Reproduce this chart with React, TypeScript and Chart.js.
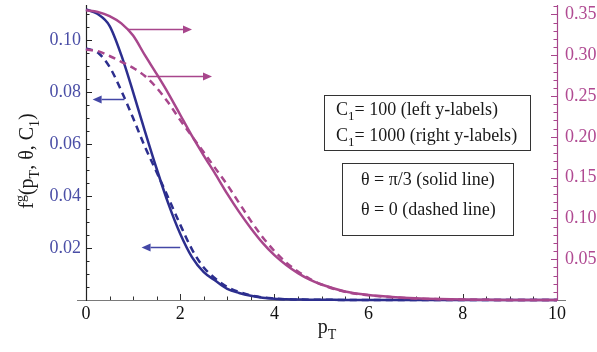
import React, { useEffect, useRef } from 'react';
import { Chart, registerables } from 'chart.js';

Chart.register(...registerables);

// ---------- data ----------
const pT = [0, 0.25, 0.5, 0.75, 1, 1.25, 1.5, 1.75, 2, 2.25, 2.5, 2.75, 3, 3.25, 3.5, 3.75, 4, 4.25, 4.5, 4.75, 5, 5.5, 6, 6.5, 7, 7.5, 8, 8.5, 9, 9.5, 10];

// C1 = 100 (left axis)
const c100ThetaPi3 = [0.1118, 0.1100, 0.1055, 0.0942, 0.0800, 0.0650, 0.0505, 0.0370, 0.0255, 0.0165, 0.0107, 0.0074, 0.0043, 0.0027, 0.0016, 0.0009, 0.0005, 0.0003, 0.0002, 0.0001, 0.0001, 0, 0, 0, 0, 0, 0, 0, 0, 0, 0];
const c100Theta0 = [0.0968, 0.0952, 0.0897, 0.0805, 0.0700, 0.0590, 0.0492, 0.0392, 0.0290, 0.0195, 0.0125, 0.0082, 0.0050, 0.0031, 0.0018, 0.0010, 0.0006, 0.0003, 0.0002, 0.0001, 0.0001, 0, 0, 0, 0, 0, 0, 0, 0, 0, 0];

// C1 = 1000 (right axis)
const c1000ThetaPi3 = [0.355, 0.353, 0.348, 0.339, 0.324, 0.300, 0.277, 0.253, 0.227, 0.201, 0.177, 0.154, 0.130, 0.108, 0.088, 0.070, 0.055, 0.043, 0.033, 0.025, 0.019, 0.0105, 0.0062, 0.0038, 0.0022, 0.0012, 0.0006, 0.0003, 0.0001, 0, 0];
const c1000Theta0 = [0.307, 0.305, 0.299, 0.2919, 0.2845, 0.2745, 0.2600, 0.2416, 0.2205, 0.2006, 0.181, 0.161, 0.141, 0.119, 0.097, 0.077, 0.060, 0.046, 0.035, 0.026, 0.019, 0.010, 0.0058, 0.0034, 0.0019, 0.0010, 0.0005, 0.0002, 0.0001, 0, 0];

// axis ranges
const xRange = [0, 10];
const leftRange = [0, 0.1135];
const rightRange = [0, 0.3615];

// arrows (data coordinates): start pT, tip pT, value, axis
const arrowFrom = [0.885, 1.31, 0.815, 2.0];
const arrowTo = [2.25, 2.675, 0.14, 1.18];
const arrowValue = [0.3315, 0.2749, 0.0772, 0.0203];
const arrowAxis = ['yR', 'yR', 'yL', 'yL'];

// legend texts
const legendC1 = [['C', '1', '= 100 (left y-labels)'], ['C', '1', '= 1000 (right y-labels)']];
const legendTheta = ['θ = π/3 (solid line)', 'θ = 0 (dashed line)'];

// ---------- styles ----------
const SERIF = "'Liberation Serif', 'DejaVu Serif', serif";
const BLUE = '#2c2e8e';
const BLUE_ARROW = '#4347a6';
const BLUE_TEXT = '#4a4ea6';
const MAGENTA = '#a8468c';
const MAGENTA_TEXT = '#b04a92';

function arrow(ctx: CanvasRenderingContext2D, x0: number, x1: number, y: number, color: string) {
  const dir = Math.sign(x1 - x0);
  const len = 9;
  const hw = 4;
  ctx.save();
  ctx.strokeStyle = color;
  ctx.fillStyle = color;
  ctx.lineWidth = 1.5;
  ctx.beginPath();
  ctx.moveTo(x0, y);
  ctx.lineTo(x1 - dir * len, y);
  ctx.stroke();
  ctx.beginPath();
  ctx.moveTo(x1, y);
  ctx.lineTo(x1 - dir * len, y - hw);
  ctx.lineTo(x1 - dir * len, y + hw);
  ctx.closePath();
  ctx.fill();
  ctx.restore();
}

type Piece = { t: string; mode?: 'sub' | 'sup' };

function drawPieces(ctx: CanvasRenderingContext2D, pieces: Piece[], x: number, y: number, size: number, small: number, align: 'left' | 'center') {
  const widths = pieces.map(p => {
    ctx.font = `${p.mode ? small : size}px ${SERIF}`;
    return ctx.measureText(p.t).width;
  });
  const total = widths.reduce((a, b) => a + b, 0);
  let cx = align === 'center' ? x - total / 2 : x;
  ctx.textBaseline = 'alphabetic';
  ctx.textAlign = 'left';
  pieces.forEach((p, i) => {
    ctx.font = `${p.mode ? small : size}px ${SERIF}`;
    const dy = p.mode === 'sub' ? size * 0.3 : p.mode === 'sup' ? -size * 0.42 : 0;
    ctx.fillText(p.t, cx, y + dy);
    cx += widths[i];
  });
}

const decorPlugin = {
  id: 'decor',
  beforeDraw(chart: any) {
    const ctx = chart.ctx;
    ctx.save();
    ctx.fillStyle = '#ffffff';
    ctx.fillRect(0, 0, chart.width, chart.height);
    ctx.restore();
  },
  beforeDatasetsDraw(chart: any) {
    const ctx: CanvasRenderingContext2D = chart.ctx;
    const x = chart.scales.x;
    const yL = chart.scales.yL;
    const yR = chart.scales.yR;
    const { left, right, top, bottom } = chart.chartArea;
    ctx.save();
    // x axis line
    ctx.strokeStyle = '#7a7a7a';
    ctx.lineWidth = 1.2;
    ctx.beginPath();
    ctx.moveTo(left - 9, bottom + 0.5);
    ctx.lineTo(right + 9, bottom + 0.5);
    ctx.stroke();
    // x ticks
    ctx.strokeStyle = '#333';
    ctx.lineWidth = 1;
    for (let i = 1; i <= 20; i++) {
      const v = i * 0.5;
      const px = Math.round(x.getPixelForValue(v)) + 0.5;
      const major = i % 4 === 0;
      ctx.beginPath();
      ctx.moveTo(px, bottom);
      ctx.lineTo(px, bottom - (major ? 6 : 3.5));
      ctx.stroke();
    }
    // left axis
    ctx.strokeStyle = '#222';
    ctx.lineWidth = 1.2;
    ctx.beginPath();
    ctx.moveTo(left + 0.5, top);
    ctx.lineTo(left + 0.5, bottom + 1);
    ctx.stroke();
    ctx.lineWidth = 1;
    for (let i = 1; i <= 22; i++) {
      const v = i * 0.005;
      const py = Math.round(yL.getPixelForValue(v)) + 0.5;
      const major = i % 4 === 0;
      ctx.beginPath();
      ctx.moveTo(left, py);
      ctx.lineTo(left + (major ? 6 : 3.5), py);
      ctx.stroke();
    }
    // right axis
    ctx.strokeStyle = MAGENTA;
    ctx.lineWidth = 1.2;
    ctx.beginPath();
    ctx.moveTo(right + 0.5, top);
    ctx.lineTo(right + 0.5, bottom + 1);
    ctx.stroke();
    ctx.lineWidth = 1;
    for (let i = 1; i <= 36; i++) {
      const v = i * 0.01;
      const py = Math.round(yR.getPixelForValue(v)) + 0.5;
      const major = i % 5 === 0;
      ctx.beginPath();
      ctx.moveTo(right, py);
      ctx.lineTo(right - (major ? 6 : 3.5), py);
      ctx.stroke();
    }
    ctx.restore();
  },
  afterDraw(chart: any) {
    const ctx: CanvasRenderingContext2D = chart.ctx;
    const x = chart.scales.x;
    ctx.save();
    // arrows
    for (let i = 0; i < arrowFrom.length; i++) {
      const sc = chart.scales[arrowAxis[i]];
      const py = Math.round(sc.getPixelForValue(arrowValue[i])) + 0.5;
      arrow(ctx, x.getPixelForValue(arrowFrom[i]), x.getPixelForValue(arrowTo[i]), py, arrowAxis[i] === 'yR' ? MAGENTA : BLUE_ARROW);
    }
    // legend boxes
    ctx.strokeStyle = '#333';
    ctx.lineWidth = 1;
    ctx.strokeRect(324.5, 95.5, 206, 55);
    ctx.strokeRect(342.5, 163.5, 171, 72);
    ctx.fillStyle = '#1a1a1a';
    legendC1.forEach((l, i) => {
      drawPieces(ctx, [{ t: l[0] }, { t: l[1], mode: 'sub' }, { t: l[2] }], 336, 115 + i * 26, 18, 13, 'left');
    });
    legendTheta.forEach((l, i) => {
      drawPieces(ctx, [{ t: l }], 361, 185 + i * 30, 18, 13, 'left');
    });
    // x title
    drawPieces(ctx, [{ t: 'p' }, { t: 'T', mode: 'sub' }], 327, 333, 20, 14, 'center');
    // y title
    ctx.translate(33, 161);
    ctx.rotate(-Math.PI / 2);
    drawPieces(ctx, [{ t: 'f' }, { t: 'g', mode: 'sup' }, { t: '(p' }, { t: 'T', mode: 'sub' }, { t: ', θ, C' }, { t: '1', mode: 'sub' }, { t: ')' }], 0, 0, 20, 14, 'center');
    ctx.restore();
  },
};

function series(values: number[]) {
  return pT.map((p, i) => ({ x: p, y: values[i] }));
}

function noPad(s: any) {
  s.paddingTop = 0;
  s.paddingBottom = 0;
  s.paddingLeft = 0;
  s.paddingRight = 0;
}

export default function App() {
  const ref = useRef<HTMLCanvasElement | null>(null);
  useEffect(() => {
    if (!ref.current) return;
    const common = { pointRadius: 0, borderWidth: 2.5, cubicInterpolationMode: 'monotone' as const, clip: false as any, fill: false };
    const chart = new Chart(ref.current, {
      type: 'line',
      data: {
        datasets: [
          { ...common, label: 'C1=1000, θ=π/3', data: series(c1000ThetaPi3), yAxisID: 'yR', borderColor: MAGENTA },
          { ...common, label: 'C1=1000, θ=0', data: series(c1000Theta0), yAxisID: 'yR', borderColor: MAGENTA, borderDash: [7, 5] },
          { ...common, label: 'C1=100, θ=π/3', data: series(c100ThetaPi3), yAxisID: 'yL', borderColor: BLUE },
          { ...common, label: 'C1=100, θ=0', data: series(c100Theta0), yAxisID: 'yL', borderColor: BLUE, borderDash: [7, 5] },
        ],
      },
      options: {
        animation: false,
        responsive: false,
        devicePixelRatio: 1,
        layout: { padding: { top: 5, left: 0, right: 0, bottom: 0 } },
        plugins: { legend: { display: false }, tooltip: { enabled: false }, title: { display: false } },
        events: [],
        scales: {
          x: {
            type: 'linear',
            min: xRange[0],
            max: xRange[1],
            grid: { display: false, drawTicks: false, tickLength: 0 },
            border: { display: false },
            ticks: { stepSize: 2, color: '#111', font: { family: SERIF, size: 18 }, padding: 3, maxRotation: 0, callback: (v: any) => String(v) },
            afterFit: (s: any) => { s.height = 52; noPad(s); },
          },
          yL: {
            type: 'linear',
            position: 'left',
            min: leftRange[0],
            max: leftRange[1],
            grid: { display: false, drawTicks: false, tickLength: 0 },
            border: { display: false },
            ticks: { stepSize: 0.02, includeBounds: false, color: BLUE_TEXT, font: { family: SERIF, size: 18 }, padding: 5, callback: (v: any) => (v === 0 ? '' : Number(v).toFixed(2)) },
            afterFit: (s: any) => { s.width = 86; noPad(s); },
          },
          yR: {
            type: 'linear',
            position: 'right',
            min: rightRange[0],
            max: rightRange[1],
            grid: { display: false, drawTicks: false, tickLength: 0 },
            border: { display: false },
            ticks: { stepSize: 0.05, includeBounds: false, color: MAGENTA_TEXT, font: { family: SERIF, size: 18 }, padding: 8, callback: (v: any) => (v === 0 ? '' : Number(v).toFixed(2)) },
            afterFit: (s: any) => { s.width = 40; noPad(s); },
          },
        },
      } as any,
      plugins: [decorPlugin],
    });
    return () => chart.destroy();
  }, []);
  return (
    <div style={{ position: 'fixed', left: 0, top: 0, width: 597, height: 352, background: '#fff' }}>
      <canvas ref={ref} width={597} height={352} style={{ width: 597, height: 352, display: 'block' }} />
    </div>
  );
}
